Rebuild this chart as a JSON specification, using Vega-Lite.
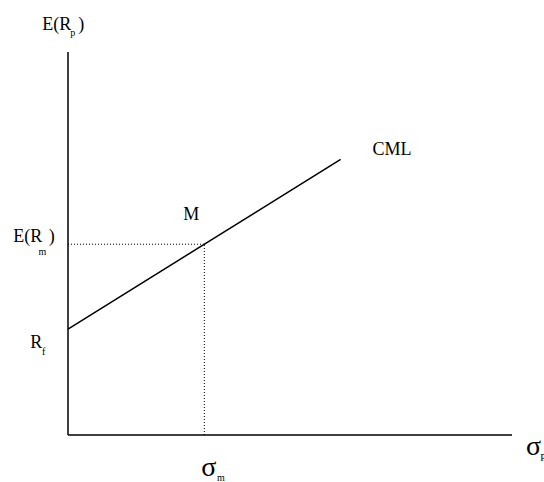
{
  "$schema": "https://vega.github.io/schema/vega-lite/v6.json",
  "width": 444,
  "height": 383,
  "autosize": {"type": "none"},
  "padding": {"left": 68, "top": 52, "right": 32, "bottom": 47},
  "background": "white",
  "config": {"view": {"stroke": null}, "font": "Liberation Serif"},
  "datasets": {
    "solid": [
      {"x": 0, "y": 0, "x2": 3.257, "y2": 0},
      {"x": 0, "y": 0, "x2": 0, "y2": 18.07},
      {"x": 0, "y": 5, "x2": 2, "y2": 13}
    ],
    "dotted": [
      {"x": 0, "y": 9, "x2": 1, "y2": 9},
      {"x": 1, "y": 0, "x2": 1, "y2": 9}
    ],
    "main": [
      {"t": "E(R", "x": -0.189, "y": 19.10},
      {"t": ")", "x": 0.076, "y": 19.10},
      {"t": "CML", "x": 2.233, "y": 13.21},
      {"t": "M", "x": 0.846, "y": 10.14},
      {"t": "E(R", "x": -0.401, "y": 9.10},
      {"t": ")", "x": -0.142, "y": 9.10},
      {"t": "R", "x": -0.277, "y": 4.10}
    ],
    "greek": [
      {"t": "σ", "x": 0.978, "y": -1.94},
      {"t": "σ", "x": 3.36, "y": -0.94}
    ],
    "subs": [
      {"t": "p", "x": 0.017, "y": 18.82},
      {"t": "m", "x": -0.216, "y": 8.50},
      {"t": "f", "x": -0.191, "y": 3.77},
      {"t": "m", "x": 1.093, "y": -2.19},
      {"t": "P", "x": 3.465, "y": -1.23}
    ]
  },
  "layer": [
    {
      "data": {"name": "dotted"},
      "mark": {"type": "rule", "color": "black", "strokeWidth": 1, "strokeDash": [1, 2]},
      "encoding": {
        "x": {"field": "x", "type": "quantitative", "scale": {"domain": [0, 3.257], "nice": false, "zero": false}, "axis": null},
        "y": {"field": "y", "type": "quantitative", "scale": {"domain": [0, 18.07], "nice": false, "zero": false}, "axis": null},
        "x2": {"field": "x2"},
        "y2": {"field": "y2"}
      }
    },
    {
      "data": {"name": "solid"},
      "mark": {"type": "rule", "color": "black", "strokeWidth": 1.5},
      "encoding": {
        "x": {"field": "x", "type": "quantitative"},
        "y": {"field": "y", "type": "quantitative"},
        "x2": {"field": "x2"},
        "y2": {"field": "y2"}
      }
    },
    {
      "data": {"name": "main"},
      "mark": {"type": "text", "font": "Times New Roman, Liberation Serif, DejaVu Serif, serif", "color": "black", "fontSize": 18, "align": "left", "baseline": "alphabetic"},
      "encoding": {
        "x": {"field": "x", "type": "quantitative"},
        "y": {"field": "y", "type": "quantitative"},
        "text": {"field": "t"}
      }
    },
    {
      "data": {"name": "greek"},
      "mark": {"type": "text", "font": "Times New Roman, Liberation Serif, DejaVu Serif, serif", "color": "black", "fontSize": 28, "align": "left", "baseline": "alphabetic"},
      "encoding": {
        "x": {"field": "x", "type": "quantitative"},
        "y": {"field": "y", "type": "quantitative"},
        "text": {"field": "t"}
      }
    },
    {
      "data": {"name": "subs"},
      "mark": {"type": "text", "font": "Times New Roman, Liberation Serif, DejaVu Serif, serif", "color": "black", "fontSize": 10, "align": "left", "baseline": "alphabetic"},
      "encoding": {
        "x": {"field": "x", "type": "quantitative"},
        "y": {"field": "y", "type": "quantitative"},
        "text": {"field": "t"}
      }
    }
  ]
}
